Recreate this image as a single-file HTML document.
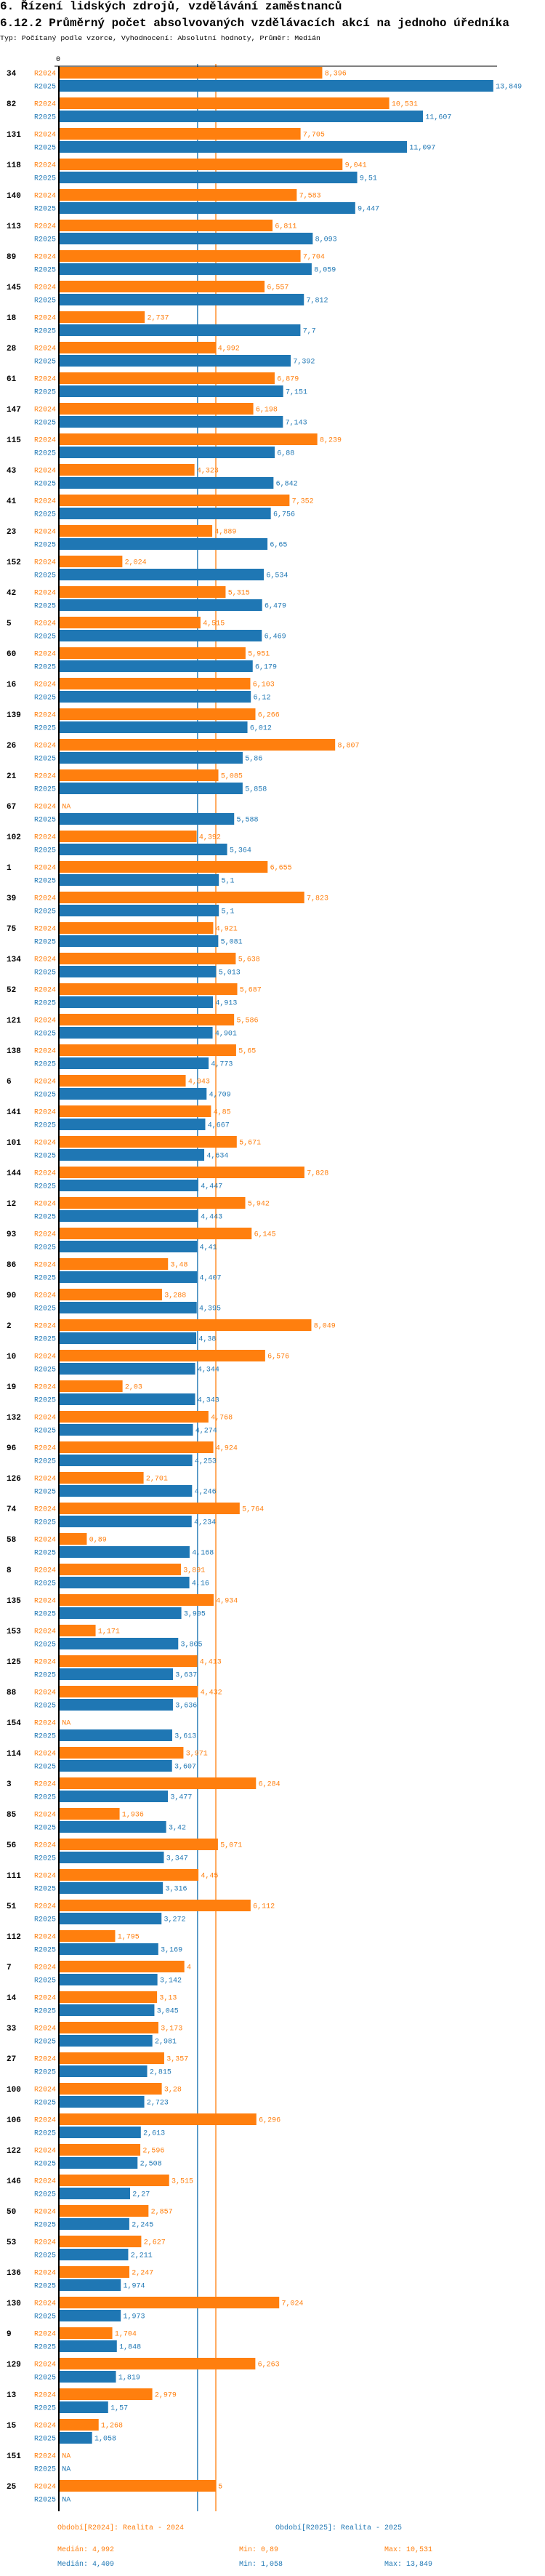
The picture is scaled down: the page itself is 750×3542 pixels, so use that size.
<!DOCTYPE html>
<html><head><meta charset="utf-8"><style>
html,body{margin:0;padding:0;background:#fff;}
svg{display:block;}
text{font-family:"Liberation Mono",monospace;}
</style></head>
<body>
<svg id="chart" width="750" height="3542" viewBox="0 0 750 3542" xmlns="http://www.w3.org/2000/svg">
<text x="0" y="13" font-size="16" font-weight="bold" fill="#000">6. Řízení lidských zdrojů, vzdělávání zaměstnanců</text>
<text x="0" y="36" font-size="16" font-weight="bold" fill="#000">6.12.2 Průměrný počet absolvovaných vzdělávacích akcí na jednoho úředníka</text>
<text x="0" y="55" font-size="9" fill="#000" textLength="441" lengthAdjust="spacingAndGlyphs">Typ: Počítaný podle vzorce, Vyhodnocení: Absolutní hodnoty, Průměr: Medián</text>
<text x="80" y="84" font-size="10" fill="#000" text-anchor="middle">0</text>
<g id="medians"></g>
<g id="bars"></g>
<line x1="75" y1="91" x2="684" y2="91" stroke="#000" stroke-width="1"/>
<line x1="81" y1="91" x2="81" y2="3453" stroke="#000" stroke-width="2"/>
<text x="79" y="3478" font-size="10" fill="#ff7f0e">Období[R2024]: Realita - 2024</text>
<text x="379" y="3478" font-size="10" fill="#1f77b4">Období[R2025]: Realita - 2025</text>
<text x="79" y="3508" font-size="10" fill="#ff7f0e">Medián: 4,992</text>
<text x="329" y="3508" font-size="10" fill="#ff7f0e">Min: 0,89</text>
<text x="529" y="3508" font-size="10" fill="#ff7f0e">Max: 10,531</text>
<text x="79" y="3528" font-size="10" fill="#1f77b4">Medián: 4,409</text>
<text x="329" y="3528" font-size="10" fill="#1f77b4">Min: 1,058</text>
<text x="529" y="3528" font-size="10" fill="#1f77b4">Max: 13,849</text>
</svg>
<script>
const categories = ["34","82","131","118","140","113","89","145","18","28","61","147","115","43","41","23","152","42","5","60","16","139","26","21","67","102","1","39","75","134","52","121","138","6","141","101","144","12","93","86","90","2","10","19","132","96","126","74","58","8","135","153","125","88","154","114","3","85","56","111","51","112","7","14","33","27","100","106","122","146","50","53","136","130","9","129","13","15","151","25"];
const values2024 = [8.396,10.531,7.705,9.041,7.583,6.811,7.704,6.557,2.737,4.992,6.879,6.198,8.239,4.323,7.352,4.889,2.024,5.315,4.515,5.951,6.103,6.266,8.807,5.085,null,4.392,6.655,7.823,4.921,5.638,5.687,5.586,5.65,4.043,4.85,5.671,7.828,5.942,6.145,3.48,3.288,8.049,6.576,2.03,4.768,4.924,2.701,5.764,0.89,3.891,4.934,1.171,4.413,4.432,null,3.971,6.284,1.936,5.071,4.45,6.112,1.795,4,3.13,3.173,3.357,3.28,6.296,2.596,3.515,2.857,2.627,2.247,7.024,1.704,6.263,2.979,1.268,null,5];
const values2025 = [13.849,11.607,11.097,9.51,9.447,8.093,8.059,7.812,7.7,7.392,7.151,7.143,6.88,6.842,6.756,6.65,6.534,6.479,6.469,6.179,6.12,6.012,5.86,5.858,5.588,5.364,5.1,5.1,5.081,5.013,4.913,4.901,4.773,4.709,4.667,4.634,4.447,4.443,4.41,4.407,4.395,4.38,4.344,4.343,4.274,4.253,4.246,4.234,4.168,4.16,3.905,3.805,3.637,3.636,3.613,3.607,3.477,3.42,3.347,3.316,3.272,3.169,3.142,3.045,2.981,2.815,2.723,2.613,2.508,2.27,2.245,2.211,1.974,1.973,1.848,1.819,1.57,1.058,null,null];
const medians = [4.992, 4.409];
const seriesNames = ["R2024","R2025"];

const NS = "http://www.w3.org/2000/svg";
const X0 = 81, PX = 43.17, TOP = 92, PITCH = 42, BH = 16, GAP = 18;
const colors = ["#ff7f0e","#1f77b4"];
function xScale(v){ return X0 + v*PX; }
function yScale(i, s){ return TOP + i*PITCH + s*GAP; }
function fmt(v){ return String(v).replace('.', ','); }
function mk(tag, attrs, parent){ const e=document.createElementNS(NS,tag); for(const k in attrs) e.setAttribute(k, attrs[k]); parent.appendChild(e); return e; }

const mg = document.getElementById('medians');
medians.forEach((m, s) => {
  const l = mk('line', {x1:xScale(m)+0.5, x2:xScale(m)+0.5, y1:88, y2:3453, stroke:colors[s], 'stroke-width':1.3}, mg);
  
  
});

const bg = document.getElementById('bars');
const seriesData = [values2024, values2025];
categories.forEach((c, i) => {
  const g = mk('g', {}, bg);
  
  
  const gl = mk('text', {x:9, y:yScale(i,0)+12, 'font-size':11, 'font-weight':'bold', fill:'#000'}, g);
  gl.textContent = c;
  
  
  seriesData.forEach((arr, s) => {
    const y = yScale(i, s);
    const sl = mk('text', {x:77, y:y+11.5, 'font-size':10, fill:colors[s], 'text-anchor':'end'}, g);
    sl.textContent = seriesNames[s];
    
    
    const v = arr[i];
    let endX = X0 + 1;
    if (v !== null) {
      const r = mk('rect', {x:X0+1, y:y, width:Math.max(0, xScale(v)-X0-1), height:BH, fill:colors[s]}, g);
      
      
      endX = xScale(v);
    }
    const vl = mk('text', {x:endX+3.3, y:y+11.5, 'font-size':10, fill:colors[s]}, g);
    vl.textContent = v === null ? 'NA' : fmt(v);
    
    
  });
});
</script>
</body></html>
